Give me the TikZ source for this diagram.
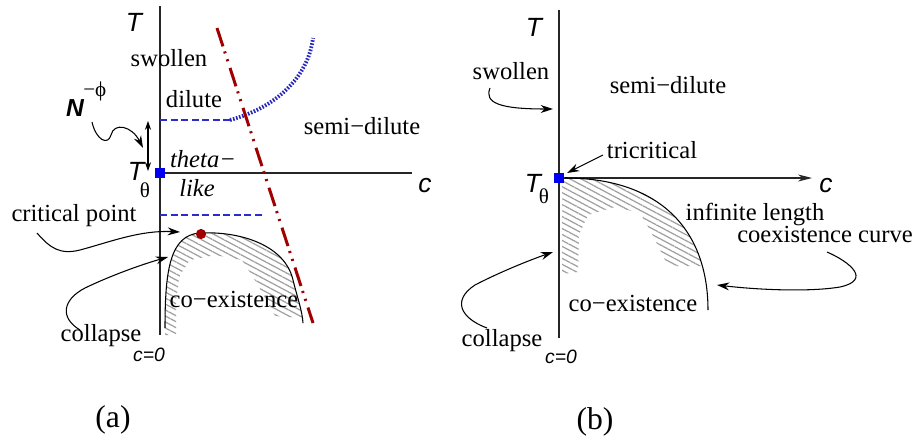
\documentclass[tikz,border=0pt]{standalone}
\usepackage{fontspec}
\setmainfont{Liberation Serif}
\setsansfont{Liberation Sans}
\usetikzlibrary{arrows.meta, patterns.meta, positioning}
\definecolor{phaseBlue}{HTML}{0000F0}
\definecolor{lineBlue}{HTML}{2B2BD0}
\definecolor{phaseRed}{HTML}{A00000}
\tikzset{
  lbl/.style    = {font=\fontsize{14}{16}\selectfont, inner sep=0pt},
  ilbl/.style   = {font=\rmfamily\itshape\fontsize{14}{16}\selectfont, inner sep=0pt},
  axlbl/.style  = {font=\sffamily\itshape\fontsize{15}{17}\selectfont, inner sep=0pt},
  sublbl/.style = {font=\fontsize{12}{14}\selectfont, inner sep=0pt},
  zerolbl/.style= {font=\sffamily\itshape\fontsize{11}{13}\selectfont, inner sep=0pt},
  panel/.style  = {font=\fontsize{18}{20}\selectfont, inner sep=0pt},
  axis/.style   = {line width=0.6pt, color=black!85},
  arrow/.style  = {-{Stealth[length=7pt, width=4.5pt]}, line width=0.6pt},
  tipmark/.style= {rectangle, fill=phaseBlue, minimum size=5.5pt, inner sep=0pt},
  critmark/.style={circle, fill=phaseRed, minimum size=5.8pt, inner sep=0pt},
  hatch/.style  = {pattern={Lines[angle=-28, distance=3pt, line width=0.7pt]},
                   pattern color=gray!75},
  coex/.style   = {line width=0.6pt},
  levelline/.style={line width=0.6pt, color=lineBlue, dash pattern=on 4pt off 2pt},
  overlap/.style= {line width=2.2pt, color=lineBlue!90!black, dash pattern=on 0.9pt off 0.9pt},
  theta/.style  = {line width=1.7pt, color=phaseRed,
                   dash pattern=on 11pt off 3pt on 1.2pt off 3.5pt on 1.2pt off 4pt},
}

\begin{document}
\begin{tikzpicture}[x=0.02cm, y=-0.02cm]
\useasboundingbox (0,0) rectangle (914,443);

% ---------- panel (a) ----------
\begin{scope}
  \clip (165,328) .. controls (165,270) and (170,235) .. (200,233)
        .. controls (240,231) and (285,245) .. (293,280)
        .. controls (298,300) and (302,310) .. (303,323) -- (303,335) -- (165,335) -- cycle;
  \fill[hatch, even odd rule] (150,220) rectangle (320,340)
        (176,340) -- (176,300) -- (180,275) -- (190,260) -- (215,255) -- (242,260)
        -- (258,285) -- (275,316) -- (302,318) -- (306,340) -- cycle;
\end{scope}

\coordinate (aO)   at (160,173);
\coordinate (aTop) at (160,6);
\coordinate (aBot) at (160,335);
\coordinate (aEnd) at (412,173);
\draw[axis] (aBot) -- (aTop);
\draw[axis] (aO) -- (aEnd);

\coordinate (aDil) at (160,120);
\coordinate (aCross) at (230,120);
\coordinate (aLow) at (160,215);
\coordinate (aLowE) at (263,215);
\draw[levelline] (aDil) -- (aCross);
\draw[levelline] (aLow) -- (aLowE);
\coordinate (aOvl) at (313,38);
\draw[overlap] (aCross) .. controls (275,108) and (308,78) .. (aOvl);

\draw[coex] (165,328) .. controls (165,270) and (170,235) .. (200,233)
      .. controls (240,231) and (285,245) .. (293,280)
      .. controls (298,300) and (302,310) .. (303,323);

\coordinate (aThS) at (217,28);
\coordinate (aThE) at (313,323);
\draw[theta] (aThS) -- (aThE);

\node[tipmark]  (aTheta) at (aO) {};
\node[critmark] (aCrit)  at (201,234) {};

\node[axlbl] (aT)   at (134,22)  {T};
\node[axlbl] (ac)   at (425,186) {c};
\node[axlbl] (aTt)  at (136,171) {T};
\node[sublbl] (aTth) at (145,190) {θ};
\node[zerolbl] (aZero) at (149,355) {c=0};

\node[lbl]  (aSwol)  at (169,58)  {swollen};
\node[lbl]  (aDilu)  at (194,99)  {dilute};
\node[lbl]  (aSemi)  at (362,126) {semi−dilute};
\node[ilbl] (aThl)   at (203,159) {theta−};
\node[ilbl] (aLike)  at (197,188) {like};
\node[lbl]  (aCritT) at (74,216)  {critical point};
\node[lbl]  (aCoex)  at (234,299) {co−existence};
\node[lbl]  (aColl)  at (101,336) {collapse};
\node[panel] (aLab)  at (113,420) {(a)};

\node[font=\sffamily\bfseries\itshape\fontsize{14}{16}\selectfont, inner sep=0pt]
      (aN) at (75,108) {N};
\node[sublbl, anchor=west] (aPhi) at (83,91) {−ϕ};

% arrows of (a)
\coordinate (aNs)  at (92,122);
\coordinate (aNe)  at (143,148);
\draw[arrow] (aNs) .. controls (96,140) and (108,146) .. (111,135)
      .. controls (114,122) and (132,126) .. (aNe);
\coordinate (aWu) at (148,121);
\coordinate (aWd) at (148,171);
\draw[{Stealth[length=5pt, width=3.5pt]}-{Stealth[length=5pt, width=3.5pt]}, line width=0.6pt]
      (aWu) -- (aWd);
\coordinate (aCs) at (37,233);
\coordinate (aCe) at (180,232);
\draw[arrow] (aCs) .. controls (50,248) and (60,255) .. (80,250)
      .. controls (110,242) and (140,230) .. (aCe);
\coordinate (aKs) at (80,330);
\coordinate (aKe) at (168,257);
\draw[arrow] (aKs) .. controls (60,318) and (62,300) .. (85,288)
      .. controls (110,276) and (140,265) .. (aKe);

% ---------- panel (b) ----------
\begin{scope}
  \clip (562,178) -- (565,178) .. controls (660,178) and (708,230) .. (708,310)
        -- (562,310) -- cycle;
  \fill[hatch, even odd rule] (550,170) rectangle (720,320)
        (555,275) -- (578,272) -- (579,235) -- (588,215) -- (615,207) -- (640,213)
        -- (650,230) -- (665,260) -- (672,266) -- (712,266) -- (712,325) -- (555,325) -- cycle;
\end{scope}

\coordinate (bO)   at (559,178);
\coordinate (bTop) at (559,10);
\coordinate (bBot) at (559,338);
\coordinate (bEnd) at (812,178);
\draw[axis] (bBot) -- (bTop);
\draw[axis, -{Stealth[length=8pt, width=4pt]}] (bO) -- (bEnd);

\draw[coex] (565,178) .. controls (660,178) and (708,230) .. (708,310);

\node[tipmark] (bTheta) at (bO) {};

\node[axlbl] (bT)   at (534,27)  {T};
\node[axlbl] (bc)   at (826,186) {c};
\node[axlbl] (bTt)  at (533,183) {T};
\node[sublbl] (bTth) at (544,196) {θ};
\node[zerolbl] (bZero) at (561,357) {c=0};

\node[lbl] (bSwol)  at (511,71)  {swollen};
\node[lbl] (bSemi)  at (668,85)  {semi−dilute};
\node[lbl] (bTri)   at (652,150) {tricritical};
\node[lbl] (bInf)   at (755,214) {infinite length};
\node[lbl] (bCurve) at (825,234) {coexistence curve};
\node[lbl] (bCoex)  at (633,303) {co−existence};
\node[lbl] (bColl)  at (502,341) {collapse};
\node[panel] (bLab) at (595,422) {(b)};

% arrows of (b)
\coordinate (bSs) at (490,88);
\coordinate (bSe) at (553,109);
\draw[arrow] (bSs) .. controls (484,103) and (500,109) .. (bSe);
\coordinate (bTs) at (603,155);
\coordinate (bTe) at (567,173);
\draw[arrow] (bTs) -- (bTe);
\coordinate (bVs) at (827,252);
\coordinate (bVe) at (717,285);
\draw[arrow] (bVs) .. controls (850,262) and (872,280) .. (840,287)
      .. controls (810,292) and (760,290) .. (bVe);
\coordinate (bKs) at (487,328);
\coordinate (bKe) at (553,252);
\draw[arrow] (bKs) .. controls (460,318) and (452,300) .. (475,285)
      .. controls (500,272) and (530,260) .. (bKe);

\end{tikzpicture}
\end{document}
